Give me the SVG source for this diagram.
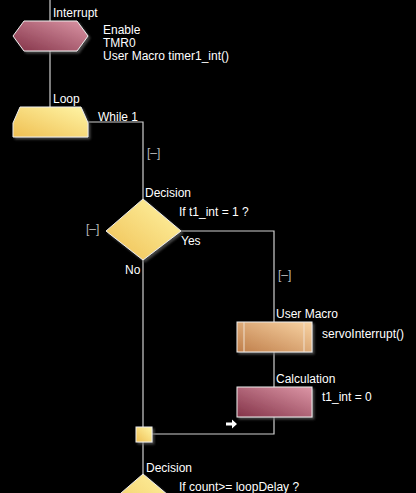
<svg xmlns="http://www.w3.org/2000/svg" width="416" height="493" viewBox="0 0 416 493">
<defs>
<linearGradient id="gMaroon" x1="0" y1="1" x2="1" y2="0">
<stop offset="0" stop-color="#833348"/><stop offset="1" stop-color="#dc96a6"/>
</linearGradient>
<linearGradient id="gYellow" x1="0" y1="1" x2="1" y2="0">
<stop offset="0" stop-color="#efbf52"/><stop offset="1" stop-color="#fff5a6"/>
</linearGradient>
<linearGradient id="gTan" x1="0" y1="1" x2="1" y2="0">
<stop offset="0" stop-color="#bf7e4a"/><stop offset="1" stop-color="#f9d4a4"/>
</linearGradient>
<filter id="sh" x="-20%" y="-20%" width="140%" height="150%">
<feDropShadow dx="2" dy="2" stdDeviation="1" flood-color="#606060" flood-opacity="0.7"/>
</filter>
</defs>
<style>
text{font-family:"Liberation Sans",Arial,sans-serif;font-size:12px;fill:#ffffff}
.br{fill:#b8b8b8;font-size:12px}
.wire{stroke:#cfcfcf;stroke-width:1.2;fill:none}
.node{stroke:#eeeeee;stroke-width:1;filter:url(#sh)}
</style>
<rect width="416" height="493" fill="#000000"/>
<g id="connectors">
<line class="wire" x1="50" y1="0" x2="50" y2="21"/>
<line class="wire" x1="50" y1="51" x2="50" y2="107"/>
<polyline class="wire" points="88,122 143,122 143,199"/>
<polyline class="wire" points="181,231 274,231 274,322"/>
<line class="wire" x1="143" y1="259" x2="143" y2="427"/>
<line class="wire" x1="274" y1="352" x2="274" y2="387"/>
<polyline class="wire" points="274,416 274,434 152,434"/>
<line class="wire" x1="143" y1="442" x2="143" y2="474"/>
<path d="M226,422.5 H232 V419.5 L237,424 L232,428.5 V425.5 H226 Z" fill="#ffffff"/>
</g>
<g id="interrupt">
<polygon class="node" points="13,36 24,21 77,21 88,36 77,51 24,51" fill="url(#gMaroon)"/>
<text x="53" y="17">Interrupt</text>
<text x="103" y="34">Enable</text>
<text x="103" y="47">TMR0</text>
<text x="103" y="60">User Macro timer1_int()</text>
</g>
<g id="loop">
<polygon class="node" points="13,123 20,107 81,107 88,123 88,137 13,137" fill="url(#gYellow)"/>
<text x="53" y="103">Loop</text>
<text x="98" y="121">While 1</text>
<text class="br" x="147" y="157">[–]</text>
</g>
<g id="decision1">
<polygon class="node" points="143,199 181,231 143,260 106,231" fill="url(#gYellow)"/>
<text x="145" y="197">Decision</text>
<text x="179" y="216">If  t1_int = 1 ?</text>
<text class="br" x="86" y="233">[–]</text>
<text x="181" y="245">Yes</text>
<text x="125" y="274">No</text>
<text class="br" x="278" y="279">[–]</text>
</g>
<g id="usermacro">
<rect class="node" x="237" y="322" width="75" height="30" fill="url(#gTan)"/>
<line x1="244" y1="322" x2="244" y2="352" stroke="#f0e0d0" stroke-width="1"/>
<line x1="304" y1="322" x2="304" y2="352" stroke="#f0e0d0" stroke-width="1"/>
<text x="276" y="318">User Macro</text>
<text x="322" y="338">servoInterrupt()</text>
</g>
<g id="calculation">
<rect class="node" x="237" y="387" width="75" height="30" fill="url(#gMaroon)"/>
<text x="276" y="383">Calculation</text>
<text x="322" y="401">t1_int = 0</text>
</g>
<g id="junction">
<rect class="node" x="136" y="427" width="16" height="15" fill="url(#gYellow)"/>
</g>
<g id="decision2">
<polygon class="node" points="143,474 181,506 143,535 106,506" fill="url(#gYellow)"/>
<text x="146" y="472">Decision</text>
<text x="179" y="491">If  count&gt;= loopDelay ?</text>
</g>
</svg>
